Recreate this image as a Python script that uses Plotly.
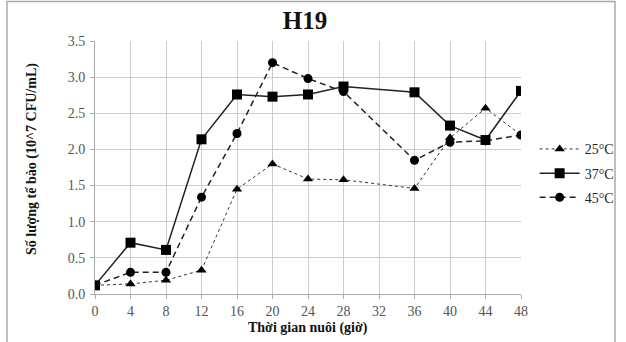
import plotly.graph_objects as go

hours = [0, 4, 8, 12, 16, 20, 24, 28, 36, 40, 44, 48]
t25 = [0.12, 0.14, 0.19, 0.33, 1.45, 1.80, 1.59, 1.58, 1.46, 2.16, 2.57, 2.20]
t37 = [0.12, 0.71, 0.61, 2.14, 2.76, 2.73, 2.76, 2.87, 2.79, 2.33, 2.13, 2.81]
t45 = [0.12, 0.30, 0.30, 1.34, 2.22, 3.20, 2.98, 2.80, 1.85, 2.10, 2.12, 2.20]
names = ["25\u00b0C", "37\u00b0C", "45\u00b0C"]
x_ticks = list(range(0, 49, 4))
y_ticks = [0.0, 0.5, 1.0, 1.5, 2.0, 2.5, 3.0, 3.5]

FONT = "Liberation Serif"
L, R, T, B = 95, 105, 41, 48
PW, PH = 626 - L - R, 342 - T - B

fig = go.Figure()
fig.add_trace(go.Scatter(x=hours, y=t25, name=names[0], mode="lines+markers", legendgroup="a",
                         line=dict(color="#333", width=1, dash="dot"),
                         marker=dict(symbol="triangle-up", size=9, color="black")))
fig.add_trace(go.Scatter(x=hours, y=t37, name=names[1], mode="lines+markers", legendgroup="b",
                         line=dict(color="#222", width=1.5),
                         marker=dict(symbol="square", size=10, color="black")))
fig.add_trace(go.Scatter(x=hours, y=t45, name=names[2], mode="lines+markers", legendgroup="c",
                         line=dict(color="#222", width=1.5, dash="6px,4px"),
                         marker=dict(symbol="circle", size=9, color="black")))

fig.update_layout(
    template="none",
    width=626, height=342,
    margin=dict(l=L, r=R, t=T, b=B, autoexpand=False),
    paper_bgcolor="white", plot_bgcolor="white",
    font=dict(family=FONT, size=14, color="#555"),
    title=dict(text="<b>H19</b>", x=305 / 626, xref="container", xanchor="center",
               y=1 - 20 / 342, yref="container", yanchor="middle",
               font=dict(family=FONT, size=25, color="#111")),
    legend=dict(x=1.032, y=0.635, xanchor="left", yanchor="top",
                font=dict(family=FONT, size=14, color="#222"),
                bgcolor="rgba(0,0,0,0)", itemwidth=40, tracegroupgap=3),
    xaxis=dict(range=[0, 48], tickvals=x_ticks, showgrid=True, gridcolor="#cccccc",
               gridwidth=1, zeroline=False, showline=True, linecolor="#aaa",
               ticks="outside", ticklen=4, tickcolor="#aaa", automargin=False,
               tickfont=dict(family=FONT, size=14, color="#555")),
    yaxis=dict(range=[0, 3.5], tickvals=y_ticks, tickformat=".1f", showgrid=True,
               gridcolor="#cccccc", gridwidth=1, zeroline=False, showline=True,
               linecolor="#aaa", ticks="outside", ticklen=4, tickcolor="#aaa",
               ticklabelstandoff=2,
               automargin=False, tickfont=dict(family=FONT, size=14, color="#555")),
    annotations=[
        dict(text="<b>Số lượng tế bào (10^7 CFU/mL)</b>", textangle=-90,
             xref="paper", yref="paper", x=(32 - L) / PW, y=(T + PH - 159) / PH,
             xanchor="center", yanchor="middle", showarrow=False,
             font=dict(family=FONT, size=14, color="#111")),
        dict(text="<b>Thời gian nuôi (giờ)</b>",
             xref="paper", yref="paper", x=(308 - L) / PW, y=(T + PH - 328) / PH,
             xanchor="center", yanchor="middle", showarrow=False,
             font=dict(family=FONT, size=14, color="#111")),
    ],
    shapes=[dict(type="rect", xref="paper", yref="paper",
                 x0=(7 - L) / PW, x1=(615 - L) / PW,
                 y0=-0.3, y1=(T + PH - 1.5) / PH,
                 line=dict(color="#aaa", width=1.5), layer="above")],
)

fig.write_html("out.html", config={"displayModeBar": False},
               post_script="document.body.style.margin='0';")
